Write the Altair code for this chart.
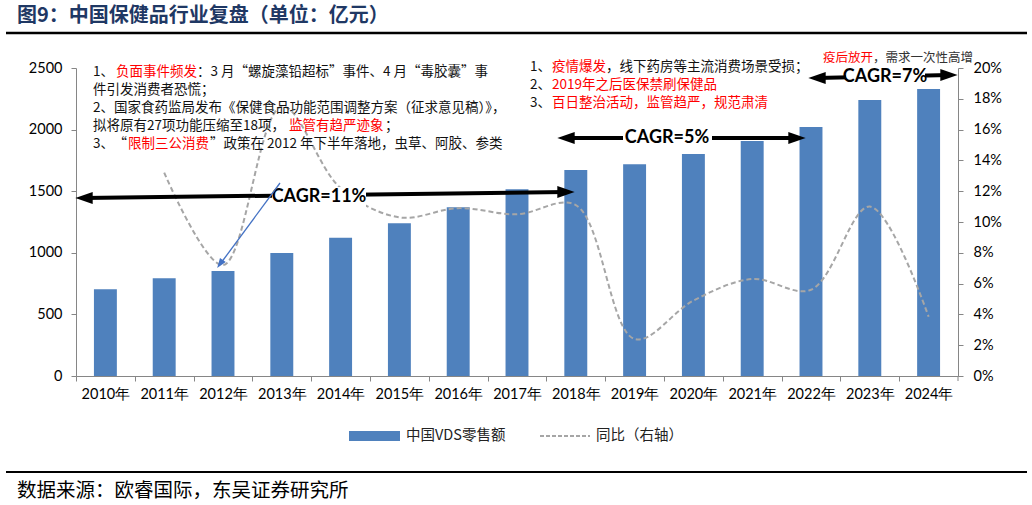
import altair as alt
import pandas as pd

# ---------------- data ----------------
years = ["2010年", "2011年", "2012年", "2013年", "2014年", "2015年", "2016年", "2017年",
         "2018年", "2019年", "2020年", "2021年", "2022年", "2023年", "2024年"]
sales = [704, 793, 852, 998, 1123, 1239, 1369, 1515, 1672, 1718, 1802, 1907, 2021, 2240, 2330]
yoy = [None, 0.132, 0.072, 0.175, 0.122, 0.103, 0.109, 0.105, 0.111, 0.024, 0.049,
       0.063, 0.056, 0.110, 0.0385]
left_ticks = [0, 500, 1000, 1500, 2000, 2500]
right_ticks = [0.00, 0.02, 0.04, 0.06, 0.08, 0.10, 0.12, 0.14, 0.16, 0.18, 0.20]

df = pd.DataFrame({"year": years, "sales": sales, "yoy": yoy})
anno = pd.DataFrame({"k": [0]})

# ---------------- layout ----------------
L, T, W, H = 76, 68, 882, 308
STEP = W / len(years)
FONT = "Noto Sans CJK SC"
NUM = "Lato"
AX = "#868686"
BLUE = "#4F81BD"
GREY = "#A6A6A6"
RED = "#FF0000"
INK = "#111111"


def X(v):
    return alt.value(v - L)


def Y(v):
    return alt.value(v - T)


def txt(s, x, y, color=INK, size=13.5, weight="normal", font=FONT, align="left"):
    return alt.Chart(anno).mark_text(
        text=s, align=align, baseline="middle", font=font, fontSize=size,
        fontWeight=weight, color=color
    ).encode(x=X(x), y=Y(y))


def rule(x1, y1, x2, y2, color="black", width=4, dash=None):
    kw = dict(color=color, strokeWidth=width)
    if dash:
        kw["strokeDash"] = dash
    return alt.Chart(anno).mark_rule(**kw).encode(x=X(x1), y=Y(y1), x2=X(x2), y2=Y(y2))


def head(x, y, path, size, color="black", angle=0):
    return alt.Chart(anno).mark_point(
        shape=path, filled=True, size=size, color=color, opacity=1, angle=angle, strokeWidth=0
    ).encode(x=X(x), y=Y(y))


def box(x1, y1, x2, y2, color="white"):
    return alt.Chart(anno).mark_rect(color=color).encode(x=X(x1), x2=X(x2), y=Y(y1), y2=Y(y2))


LEFT_HEAD = "M-1,0L1,-0.7L1,0.7Z"
RIGHT_HEAD = "M1,0L-1,-0.7L-1,0.7Z"
DOWN_HEAD = "M0,1L-0.7,-1L0.7,-1Z"

x_enc = alt.X(
    "year:N", sort=years,
    scale=alt.Scale(paddingInner=0.61, paddingOuter=0.305),
    axis=alt.Axis(title=None, labelAngle=0, labelFont=NUM, labelFontSize=14.5,
                  labelColor="#000000", domainColor=AX, tickColor=AX, tickSize=5,
                  bandPosition=0.5, tickOffset=-STEP / 2, labelOffset=STEP / 2,
                  labelPadding=6, grid=False)
)

bars = alt.Chart(df).mark_bar(color=BLUE).encode(
    x=x_enc,
    y=alt.Y("sales:Q", scale=alt.Scale(domain=[0, 2500], nice=False),
            axis=alt.Axis(values=left_ticks, format="d", title=None, grid=False,
                          labelFont=NUM, labelFontSize=14.5, labelColor="#000000",
                          domainColor=AX, tickColor=AX, tickSize=5, labelPadding=9))
)

line = alt.Chart(df).transform_filter("isValid(datum.yoy)").mark_line(
    color=GREY, strokeDash=[5, 3], strokeWidth=2, interpolate="catmull-rom"
).encode(
    x=x_enc,
    y=alt.Y("yoy:Q", scale=alt.Scale(domain=[0, 0.2], nice=False),
            axis=alt.Axis(orient="right", format=".0%", values=right_ticks, title=None,
                          grid=False, labelFont=NUM, labelFontSize=14.5,
                          labelColor="#000000", domainColor=AX, tickColor=AX,
                          tickSize=5, labelPadding=10))
)

decos = [
    # end tick of x axis
    rule(L + W, T + H, L + W, T + H + 5, color=AX, width=1),
    # title and rules
    txt("图9：中国保健品行业复盘（单位：亿元）", 17, 16, color="#1F3864", size=20, weight="bold"),
    rule(6, 33, 1027, 33, color="#000000", width=2.5),
    rule(6, 472, 1027, 472, color="#000000", width=2),
    txt("数据来源：欧睿国际，东吴证券研究所", 17, 491, color="#000000", size=19.5),
    # legend
    box(349, 431, 400, 441, color=BLUE),
    txt("中国VDS零售额", 406, 436, color="#222222", size=14.5),
    rule(540, 436, 590, 436, color=GREY, width=2, dash=[4, 2]),
    txt("同比（右轴）", 596, 436, color="#222222", size=14.5),
    # left annotation
    txt("1、", 93, 72), txt("负面事件频发", 116, 72, color=RED),
    txt("：3 月“螺旋藻铅超标”事件、4 月“毒胶囊”事", 197, 72),
    txt("件引发消费者恐慌；", 93, 90),
    txt("2、国家食药监局发布《保健食品功能范围调整方案（征求意见稿）》，", 93, 108),
    txt("拟将原有27项功能压缩至18项，", 93, 126), txt("监管有趋严迹象", 289, 126, color=RED),
    txt("；", 385, 126),
    txt("3、", 93, 144), txt("“", 127, 144, align="right"),
    txt("限制三公消费", 128, 144, color=RED),
    txt("”政策在 2012 年下半年落地，虫草、阿胶、参类", 210, 144),
    # right annotation
    txt("1、", 530, 67), txt("疫情爆发", 552, 67, color=RED),
    txt("，线下药房等主流消费场景受损；", 606, 67),
    txt("2、", 530, 85), txt("2019年之后医保禁刷保健品", 552, 85, color=RED),
    txt("3、", 530, 103), txt("百日整治活动，监管趋严，规范肃清", 552, 103, color=RED),
    txt("疫后放开", 823, 58, color=RED, size=12.5),
    txt("，需求一次性高增", 873, 58, color="#333333", size=12.5),
    # CAGR 11%
    rule(84, 198, 566, 192),
    head(84, 198, LEFT_HEAD, 300), head(566, 192, RIGHT_HEAD, 300),
    box(272, 187, 366, 208),
    txt("CAGR=11%", 319, 197, color="#000000", size=18, weight="bold", font=NUM, align="center"),
    # CAGR 5%
    rule(566, 138, 797, 138),
    head(566, 138, LEFT_HEAD, 300), head(797, 138, RIGHT_HEAD, 300),
    box(623, 127, 712, 149),
    txt("CAGR=5%", 667, 138, color="#000000", size=18, weight="bold", font=NUM, align="center"),
    # CAGR 7%
    rule(817, 78, 949, 75),
    head(817, 78, LEFT_HEAD, 300), head(949, 75, RIGHT_HEAD, 300),
    box(846, 68, 925, 88),
    txt("CAGR=7%", 885, 77, color="#000000", size=18, weight="bold", font=NUM, align="center"),
    # blue pointer to 2012
    rule(280, 183, 221, 263, color="#4472C4", width=1.3),
    head(220, 264, DOWN_HEAD, 100, color="#4472C4", angle=35),
]

chart = alt.layer(bars, line, *decos).resolve_scale(y="independent").properties(
    width=W, height=H,
    padding={"left": L, "top": T, "right": 1032 - L - W, "bottom": 505 - T - H},
    autosize=alt.AutoSizeParams(type="none"),
    background="white",
).configure_view(stroke=None)

chart.save("out.html", embed_options={"renderer": "svg", "actions": False})
